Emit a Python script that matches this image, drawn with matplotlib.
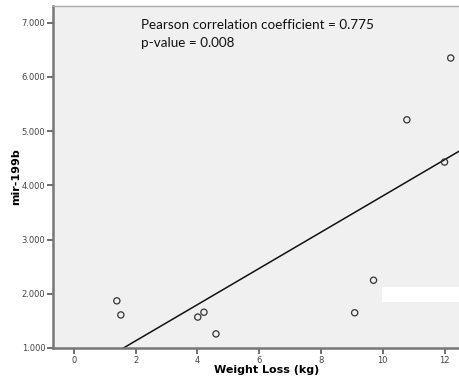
import numpy as np
import matplotlib.pyplot as plt
from matplotlib.patches import Rectangle

weight_loss = [1.39, 1.52, 4.01, 4.21, 4.60, 9.09, 9.70, 10.78, 12.00, 12.20]
mir_199b = [1.87, 1.61, 1.57, 1.66, 1.26, 1.65, 2.25, 5.21, 4.43, 6.35]
y_ticks = [1, 2, 3, 4, 5, 6, 7]
x_ticks = [0, 2, 4, 6, 8, 10, 12]

fig = plt.figure(figsize=(4.6, 3.76), dpi=100)
ax = fig.add_axes([0.115, 0.0745, 0.93, 0.9096])
ax.set_facecolor('#f0f0f0')

ax.scatter(weight_loss, mir_199b, s=20, facecolors='none', edgecolors='#333333',
           linewidths=0.9, zorder=3)

# fit line
slope, intercept = np.polyfit(weight_loss, mir_199b, 1)
xs = np.array([-1, 14])
ax.plot(xs, slope * xs + intercept, color='#111111', lw=1.1, zorder=2)

ax.set_xlim(-0.68, 13.17)
ax.set_ylim(1, 7.31)
ax.set_xticks(x_ticks)
ax.set_yticks(y_ticks)
ax.set_yticklabels(['%.3f' % v for v in y_ticks])
ax.tick_params(axis='both', direction='out', length=4, width=1.2, color='#555555',
               labelsize=6.0, labelcolor='#444444', pad=1.5)

for s in ['left', 'bottom']:
    ax.spines[s].set_color('#777777')
    ax.spines[s].set_linewidth(1.8)
ax.spines['top'].set_color('#aaaaaa')
ax.spines['top'].set_linewidth(1.0)
ax.spines['right'].set_visible(False)

ax.set_ylabel('mir-199b', fontsize=8, fontweight='bold', labelpad=0)
ax.set_xlabel('Weight Loss (kg)', fontsize=8, fontweight='bold', labelpad=0)

ax.text(0.207, 0.962, 'Pearson correlation coefficient = 0.775', transform=ax.transAxes,
        fontsize=9.7, family='Lato', va='top', ha='left', color='#111111')
ax.text(0.207, 0.908, 'p-value = 0.008', transform=ax.transAxes,
        fontsize=9.7, family='Lato', va='top', ha='left', color='#111111')

# white box covering a label in the original
fig.patches.append(Rectangle((0.830, 0.197), 0.2, 0.04, transform=fig.transFigure,
                             facecolor='white', edgecolor='none', zorder=5))

fig.savefig('out.png', dpi=100)
